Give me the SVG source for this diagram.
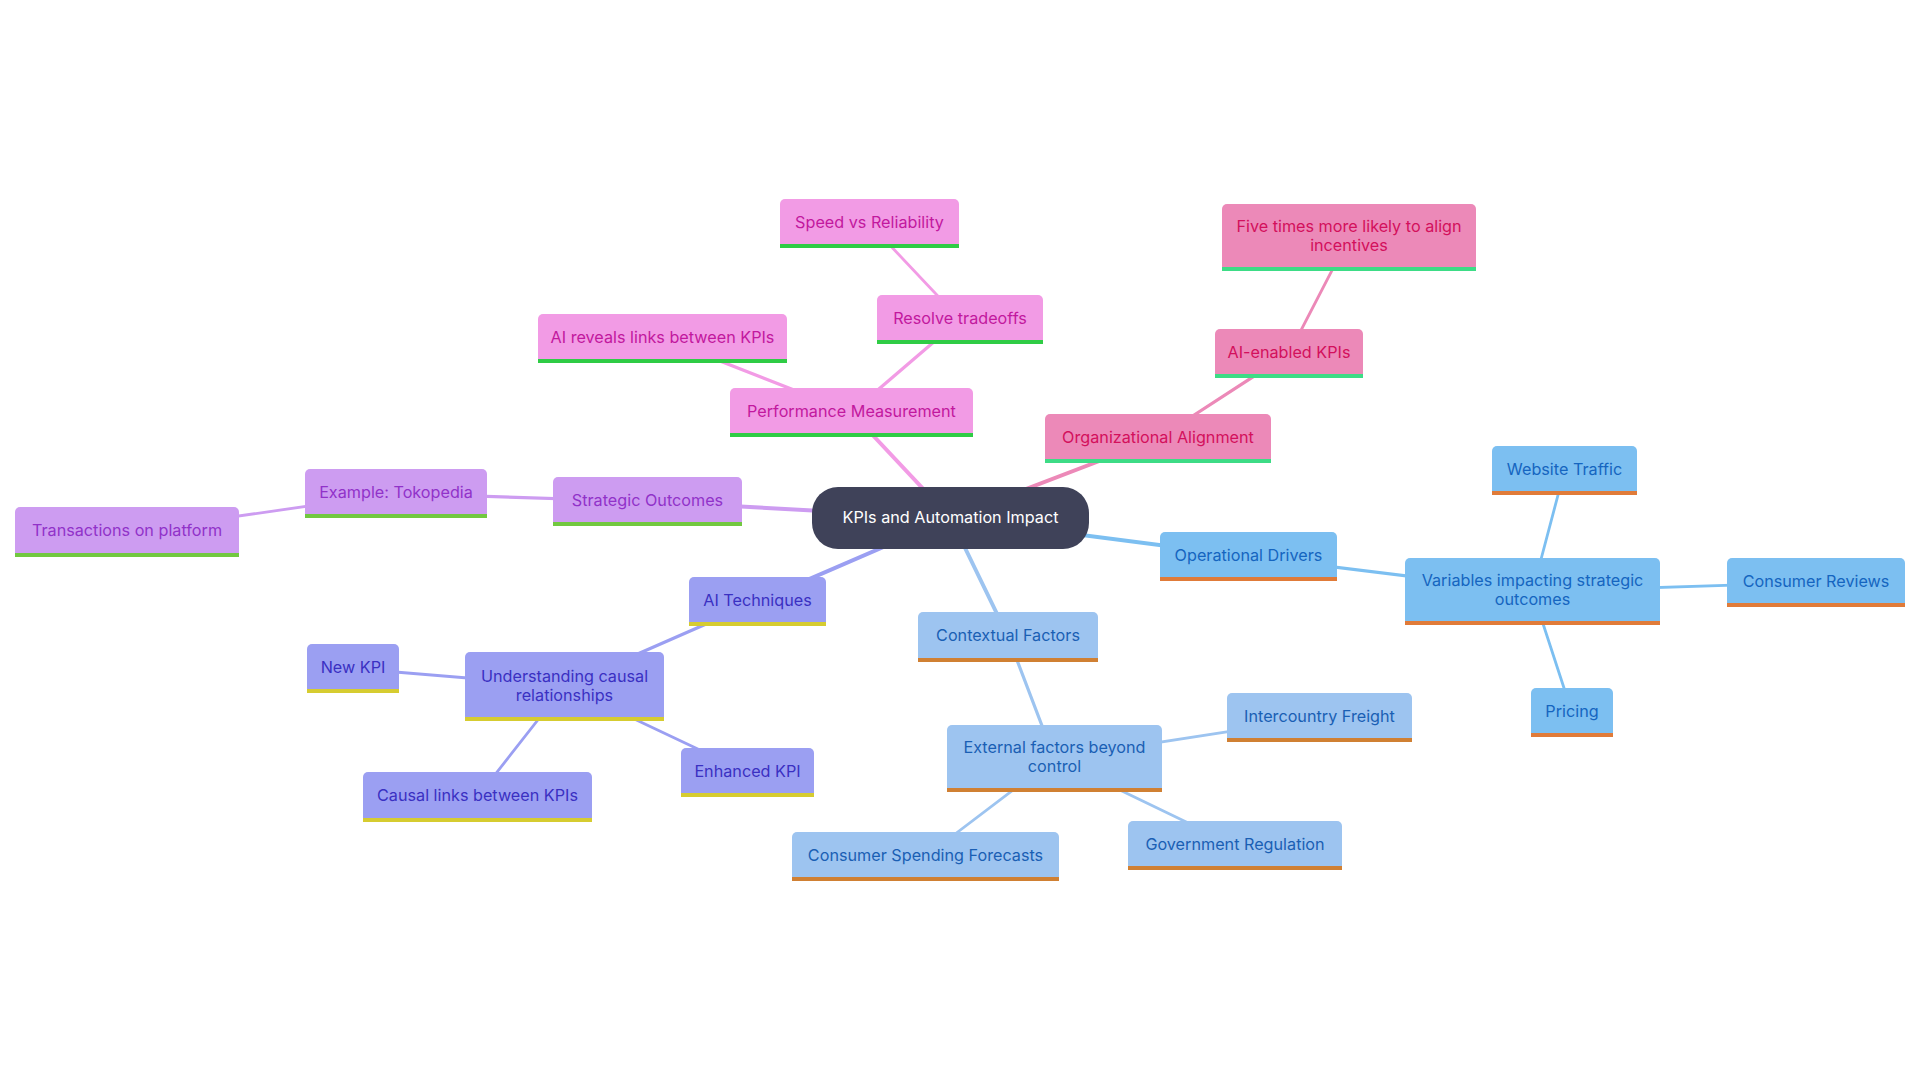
<svg xmlns="http://www.w3.org/2000/svg" width="1920" height="1080" viewBox="0 0 1920 1080">
<style>
text{font-family:Inter,"Noto Sans","Liberation Sans",sans-serif;font-size:16.2px;text-anchor:middle;transform:translate(0px,-1.5px)}
.e{fill:none;stroke-linecap:round}
.d1{stroke-width:4}.d2{stroke-width:3.2}.d3{stroke-width:2.8}
.pk .f{fill:#f29be5}.pk text{fill:#c2189e}.pk .u{fill:#2fcc45}
.rs .f{fill:#ec89b8}.rs text{fill:#d3105c}.rs .u{fill:#3ddc86}
.bl .f{fill:#7cbff1}.bl text{fill:#1565c0}.bl .u{fill:#e07b39}
.lb .f{fill:#9dc4f0}.lb text{fill:#1a5fb4}.lb .u{fill:#d08033}
.pu .f{fill:#9b9ff2}.pu text{fill:#3a30c2}.pu .u{fill:#d6cc30}
.lv .f{fill:#cd9cf1}.lv text{fill:#9132c9}.lv .u{fill:#72c840}
</style>
<rect width="1920" height="1080" fill="#ffffff"/>
<g id="connectors">
<g stroke="#f29be5" class="e">
<line class="d1" x1="950.5" y1="518" x2="851.5" y2="412.5"/>
<line class="d2" x1="851.5" y1="412.5" x2="662.5" y2="338.5"/>
<line class="d2" x1="851.5" y1="412.5" x2="960" y2="319.5"/>
<line class="d3" x1="960" y1="319.5" x2="869.5" y2="223.5"/>
</g>
<g stroke="#ec89b8" class="e">
<line class="d1" x1="950.5" y1="518" x2="1158" y2="438.5"/>
<line class="d2" x1="1158" y1="438.5" x2="1289" y2="353.5"/>
<line class="d3" x1="1289" y1="353.5" x2="1349" y2="237.5"/>
</g>
<g stroke="#7cbff1" class="e">
<line class="d1" x1="950.5" y1="518" x2="1248.5" y2="556.5"/>
<line class="d2" x1="1248.5" y1="556.5" x2="1532.5" y2="591.5"/>
<line class="d3" x1="1532.5" y1="591.5" x2="1564.5" y2="470.5"/>
<line class="d3" x1="1532.5" y1="591.5" x2="1816" y2="582.5"/>
<line class="d3" x1="1532.5" y1="591.5" x2="1572" y2="712.5"/>
</g>
<g stroke="#9dc4f0" class="e">
<line class="d1" x1="950.5" y1="518" x2="1008" y2="636.5"/>
<line class="d2" x1="1008" y1="636.5" x2="1054.5" y2="758.5"/>
<line class="d3" x1="1054.5" y1="758.5" x2="1319.5" y2="717.5"/>
<line class="d3" x1="1054.5" y1="758.5" x2="1235" y2="845.5"/>
<line class="d3" x1="1054.5" y1="758.5" x2="925.5" y2="856.5"/>
</g>
<g stroke="#9b9ff2" class="e">
<line class="d1" x1="950.5" y1="518" x2="757.5" y2="601.5"/>
<line class="d2" x1="757.5" y1="601.5" x2="564.5" y2="686"/>
<line class="d3" x1="564.5" y1="686" x2="353" y2="668.5"/>
<line class="d3" x1="564.5" y1="686" x2="747.5" y2="772.5"/>
<line class="d3" x1="564.5" y1="686" x2="477.5" y2="797"/>
</g>
<g stroke="#cd9cf1" class="e">
<line class="d1" x1="950.5" y1="518" x2="647.5" y2="501.5"/>
<line class="d2" x1="647.5" y1="501.5" x2="396" y2="493.5"/>
<line class="d3" x1="396" y1="493.5" x2="127" y2="532"/>
</g>
</g>

<g id="n-root">
<rect x="812" y="487" width="277" height="62" rx="26" fill="#3f4259"/>
<text x="950.5" y="524" fill="#ffffff">KPIs and Automation Impact</text>
</g>

<g id="n-perf" class="pk"><rect class="f" x="730" y="388" width="243" height="49" rx="5"/><rect class="f" x="730" y="420" width="243" height="17"/><rect class="u" x="730" y="433" width="243" height="4"/><text x="851.5" y="418">Performance Measurement</text></g>
<g id="n-aireveals" class="pk"><rect class="f" x="538" y="314" width="249" height="49" rx="5"/><rect class="f" x="538" y="346" width="249" height="17"/><rect class="u" x="538" y="359" width="249" height="4"/><text x="662.5" y="344">AI reveals links between KPIs</text></g>
<g id="n-resolve" class="pk"><rect class="f" x="877" y="295" width="166" height="49" rx="5"/><rect class="f" x="877" y="327" width="166" height="17"/><rect class="u" x="877" y="340" width="166" height="4"/><text x="960" y="325">Resolve tradeoffs</text></g>
<g id="n-speed" class="pk"><rect class="f" x="780" y="199" width="179" height="49" rx="5"/><rect class="f" x="780" y="231" width="179" height="17"/><rect class="u" x="780" y="244" width="179" height="4"/><text x="869.5" y="229">Speed vs Reliability</text></g>

<g id="n-org" class="rs"><rect class="f" x="1045" y="414" width="226" height="49" rx="5"/><rect class="f" x="1045" y="446" width="226" height="17"/><rect class="u" x="1045" y="459" width="226" height="4"/><text x="1158" y="444">Organizational Alignment</text></g>
<g id="n-aienabled" class="rs"><rect class="f" x="1215" y="329" width="148" height="49" rx="5"/><rect class="f" x="1215" y="361" width="148" height="17"/><rect class="u" x="1215" y="374" width="148" height="4"/><text x="1289" y="359">AI-enabled KPIs</text></g>
<g id="n-five" class="rs"><rect class="f" x="1222" y="204" width="254" height="67" rx="5"/><rect class="f" x="1222" y="254" width="254" height="17"/><rect class="u" x="1222" y="267" width="254" height="4"/><text x="1349" y="233">Five times more likely to align</text><text x="1349" y="252">incentives</text></g>

<g id="n-opdr" class="bl"><rect class="f" x="1160" y="532" width="177" height="49" rx="5"/><rect class="f" x="1160" y="564" width="177" height="17"/><rect class="u" x="1160" y="577" width="177" height="4"/><text x="1248.5" y="562">Operational Drivers</text></g>
<g id="n-var" class="bl"><rect class="f" x="1405" y="558" width="255" height="67" rx="5"/><rect class="f" x="1405" y="608" width="255" height="17"/><rect class="u" x="1405" y="621" width="255" height="4"/><text x="1532.5" y="587">Variables impacting strategic</text><text x="1532.5" y="606">outcomes</text></g>
<g id="n-web" class="bl"><rect class="f" x="1492" y="446" width="145" height="49" rx="5"/><rect class="f" x="1492" y="478" width="145" height="17"/><rect class="u" x="1492" y="491" width="145" height="4"/><text x="1564.5" y="476">Website Traffic</text></g>
<g id="n-reviews" class="bl"><rect class="f" x="1727" y="558" width="178" height="49" rx="5"/><rect class="f" x="1727" y="590" width="178" height="17"/><rect class="u" x="1727" y="603" width="178" height="4"/><text x="1816" y="588">Consumer Reviews</text></g>
<g id="n-pricing" class="bl"><rect class="f" x="1531" y="688" width="82" height="49" rx="5"/><rect class="f" x="1531" y="720" width="82" height="17"/><rect class="u" x="1531" y="733" width="82" height="4"/><text x="1572" y="718">Pricing</text></g>

<g id="n-ctx" class="lb"><rect class="f" x="918" y="612" width="180" height="50" rx="5"/><rect class="f" x="918" y="645" width="180" height="17"/><rect class="u" x="918" y="658" width="180" height="4"/><text x="1008" y="642">Contextual Factors</text></g>
<g id="n-ext" class="lb"><rect class="f" x="947" y="725" width="215" height="67" rx="5"/><rect class="f" x="947" y="775" width="215" height="17"/><rect class="u" x="947" y="788" width="215" height="4"/><text x="1054.5" y="754">External factors beyond</text><text x="1054.5" y="773">control</text></g>
<g id="n-freight" class="lb"><rect class="f" x="1227" y="693" width="185" height="49" rx="5"/><rect class="f" x="1227" y="725" width="185" height="17"/><rect class="u" x="1227" y="738" width="185" height="4"/><text x="1319.5" y="723">Intercountry Freight</text></g>
<g id="n-gov" class="lb"><rect class="f" x="1128" y="821" width="214" height="49" rx="5"/><rect class="f" x="1128" y="853" width="214" height="17"/><rect class="u" x="1128" y="866" width="214" height="4"/><text x="1235" y="851">Government Regulation</text></g>
<g id="n-spend" class="lb"><rect class="f" x="792" y="832" width="267" height="49" rx="5"/><rect class="f" x="792" y="864" width="267" height="17"/><rect class="u" x="792" y="877" width="267" height="4"/><text x="925.5" y="862">Consumer Spending Forecasts</text></g>

<g id="n-aitech" class="pu"><rect class="f" x="689" y="577" width="137" height="49" rx="5"/><rect class="f" x="689" y="609" width="137" height="17"/><rect class="u" x="689" y="622" width="137" height="4"/><text x="757.5" y="607">AI Techniques</text></g>
<g id="n-und" class="pu"><rect class="f" x="465" y="652" width="199" height="69" rx="5"/><rect class="f" x="465" y="704" width="199" height="17"/><rect class="u" x="465" y="717" width="199" height="4"/><text x="564.5" y="683">Understanding causal</text><text x="564.5" y="702">relationships</text></g>
<g id="n-newkpi" class="pu"><rect class="f" x="307" y="644" width="92" height="49" rx="5"/><rect class="f" x="307" y="676" width="92" height="17"/><rect class="u" x="307" y="689" width="92" height="4"/><text x="353" y="674">New KPI</text></g>
<g id="n-causal" class="pu"><rect class="f" x="363" y="772" width="229" height="50" rx="5"/><rect class="f" x="363" y="805" width="229" height="17"/><rect class="u" x="363" y="818" width="229" height="4"/><text x="477.5" y="802">Causal links between KPIs</text></g>
<g id="n-enh" class="pu"><rect class="f" x="681" y="748" width="133" height="49" rx="5"/><rect class="f" x="681" y="780" width="133" height="17"/><rect class="u" x="681" y="793" width="133" height="4"/><text x="747.5" y="778">Enhanced KPI</text></g>

<g id="n-strat" class="lv"><rect class="f" x="553" y="477" width="189" height="49" rx="5"/><rect class="f" x="553" y="509" width="189" height="17"/><rect class="u" x="553" y="522" width="189" height="4"/><text x="647.5" y="507">Strategic Outcomes</text></g>
<g id="n-toko" class="lv"><rect class="f" x="305" y="469" width="182" height="49" rx="5"/><rect class="f" x="305" y="501" width="182" height="17"/><rect class="u" x="305" y="514" width="182" height="4"/><text x="396" y="499">Example: Tokopedia</text></g>
<g id="n-trans" class="lv"><rect class="f" x="15" y="507" width="224" height="50" rx="5"/><rect class="f" x="15" y="540" width="224" height="17"/><rect class="u" x="15" y="553" width="224" height="4"/><text x="127" y="537">Transactions on platform</text></g>
</svg>
